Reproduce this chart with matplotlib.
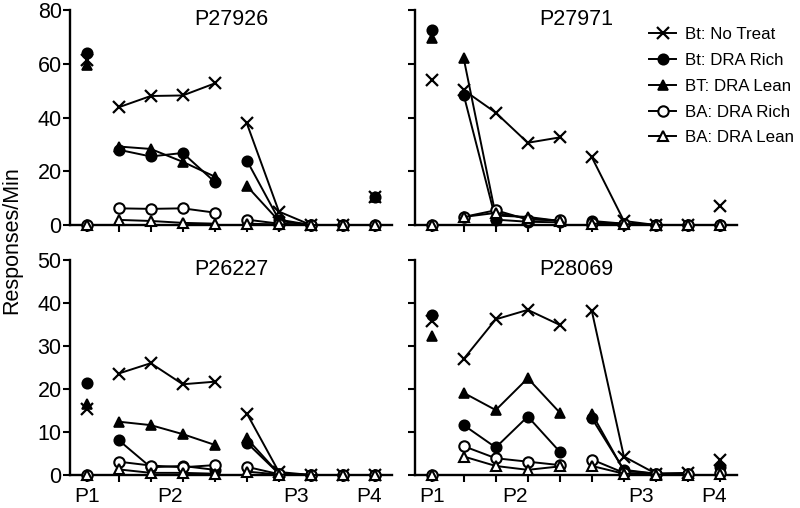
import matplotlib
matplotlib.use("Agg")
import matplotlib.pyplot as plt
from matplotlib.lines import Line2D

plt.rcParams['font.family'] = ['Liberation Sans', 'DejaVu Sans']

positions = list(range(10))
segments = [[0], [1, 2, 3, 4], [5, 6, 7, 8], [9]]
phase_labels = ['P1', 'P2', 'P3', 'P4']
phase_label_pos = [0, 2.6, 6.55, 8.8]

series_names = ['Bt: No Treat', 'Bt: DRA Rich', 'BT: DRA Lean', 'BA: DRA Rich', 'BA: DRA Lean']

titles = ['P27926', 'P27971', 'P26227', 'P28069']

p27926_notreat = [61.5, 43.8, 48.0, 48.2, 52.7, 37.8, 5.0, 0, 0, 10.5]
p27926_rich = [63.9, 28.0, 25.5, 26.8, 16.0, 24.0, 2.0, 0, 0, 10.5]
p27926_lean = [59.5, 29.2, 28.3, 23.5, 18.0, 14.5, 1.5, 0, 0, 10.5]
p27926_ba_rich = [0, 6.2, 6.0, 6.2, 4.6, 2.0, 0.5, 0, 0, 0]
p27926_ba_lean = [0, 1.9, 1.5, 0.8, 0.5, 0.5, 0.2, 0, 0, 0]

p27971_notreat = [54.0, 50.2, 41.8, 30.6, 32.6, 25.2, 1.5, 0, 0, 7.0]
p27971_rich = [72.6, 48.4, 2.0, 1.2, 1.0, 1.5, 0.5, 0, 0, 0]
p27971_lean = [69.5, 62.0, 3.5, 3.0, 1.5, 1.0, 0.5, 0, 0, 0]
p27971_ba_rich = [0, 3.0, 5.5, 2.0, 1.8, 0.8, 0.3, 0, 0, 0]
p27971_ba_lean = [0, 3.0, 4.5, 2.5, 1.5, 0.5, 0.3, 0, 0, 0]

p26227_notreat = [15.3, 23.6, 26.0, 21.1, 21.7, 14.3, 0.7, 0, 0, 0]
p26227_rich = [21.3, 8.1, 1.8, 2.1, 1.2, 7.5, 0.3, 0, 0, 0]
p26227_lean = [16.5, 12.4, 11.6, 9.5, 7.0, 8.5, 0.3, 0, 0, 0]
p26227_ba_rich = [0, 3.1, 2.2, 1.8, 2.3, 1.9, 0.2, 0, 0, 0]
p26227_ba_lean = [0, 1.3, 0.5, 0.5, 0.3, 0.8, 0.1, 0, 0, 0]

p28069_notreat = [35.7, 27.0, 36.2, 38.4, 34.9, 38.1, 4.3, 0.3, 0.5, 3.5]
p28069_rich = [37.2, 11.6, 6.4, 13.6, 5.4, 13.2, 1.2, 0.3, 0.3, 1.9]
p28069_lean = [32.3, 19.1, 15.1, 22.5, 14.5, 14.3, 1.0, 0.3, 0.3, 1.0]
p28069_ba_rich = [0, 6.7, 3.9, 3.1, 2.3, 3.6, 0.5, 0.2, 0.2, 0.5]
p28069_ba_lean = [0, 4.3, 2.1, 1.2, 2.0, 2.1, 0.3, 0.1, 0.1, 0.3]

panels = [
    [p27926_notreat, p27926_rich, p27926_lean, p27926_ba_rich, p27926_ba_lean],
    [p27971_notreat, p27971_rich, p27971_lean, p27971_ba_rich, p27971_ba_lean],
    [p26227_notreat, p26227_rich, p26227_lean, p26227_ba_rich, p26227_ba_lean],
    [p28069_notreat, p28069_rich, p28069_lean, p28069_ba_rich, p28069_ba_lean],
]

styles = [
    dict(marker='x', markerfacecolor='black', markeredgecolor='black', markersize=8, markeredgewidth=1.6),
    dict(marker='o', markerfacecolor='black', markeredgecolor='black', markersize=7.5, markeredgewidth=1.2),
    dict(marker='^', markerfacecolor='black', markeredgecolor='black', markersize=7.5, markeredgewidth=1.2),
    dict(marker='o', markerfacecolor='white', markeredgecolor='black', markersize=7.5, markeredgewidth=1.5),
    dict(marker='^', markerfacecolor='white', markeredgecolor='black', markersize=7.5, markeredgewidth=1.5),
]

ylims = [80, 80, 50, 50]
yticks = [[0, 20, 40, 60, 80], [0, 20, 40, 60, 80], [0, 10, 20, 30, 40, 50], [0, 10, 20, 30, 40, 50]]

W, H = 800, 508
fig = plt.figure(figsize=(8, 5.08), dpi=100)
ax_px = [(70, 10), (415, 10), (70, 260), (415, 260)]
aw, ah = 322, 215

FS = 15.5
for i in range(4):
    x0, ytop = ax_px[i]
    ax = fig.add_axes([x0 / W, 1 - (ytop + ah) / H, aw / W, ah / H])
    for s in range(5):
        vals = panels[i][s]
        for seg in segments:
            ax.plot([positions[k] for k in seg], [vals[k] for k in seg], color='black',
                    lw=1.4, clip_on=False, zorder=3 + s * 0.1, **styles[s])
    ax.set_xlim(-0.52, 9.53)
    ax.set_ylim(0, ylims[i])
    ax.set_yticks(yticks[i])
    ax.set_xticks(positions)
    ax.set_xticklabels([])
    if i % 2 == 1:
        ax.set_yticklabels([])
    for sp in ['top', 'right']:
        ax.spines[sp].set_visible(False)
    for sp in ['left', 'bottom']:
        ax.spines[sp].set_linewidth(1.7)
    ax.tick_params(axis='both', direction='out', length=5, width=1.5, labelsize=FS, pad=1)
    ax.text(0.5, 0.956, titles[i], transform=ax.transAxes, ha='center', va='center', fontsize=FS)
    if i >= 2:
        for lab, p in zip(phase_labels, phase_label_pos):
            ax.annotate(lab, xy=(p, 0), xycoords=('data', 'axes fraction'), xytext=(0, -19.5),
                        textcoords='offset points', ha='center', va='baseline', fontsize=15,
                        annotation_clip=False)

handles = [Line2D([0], [0], color='black', lw=1.4, **styles[s]) for s in range(5)]
fig.legend(handles, series_names, loc='upper left', bbox_to_anchor=(649 / W, 1 - 27 / H),
           frameon=False, fontsize=12.2, handlelength=1.6, handletextpad=0.5,
           labelspacing=0.64, borderpad=0, borderaxespad=0)

fig.text(12 / W, 1 - 240 / H, 'Responses/Min', rotation=90, ha='center', va='center', fontsize=FS)

fig.savefig('out.png', dpi=100)
